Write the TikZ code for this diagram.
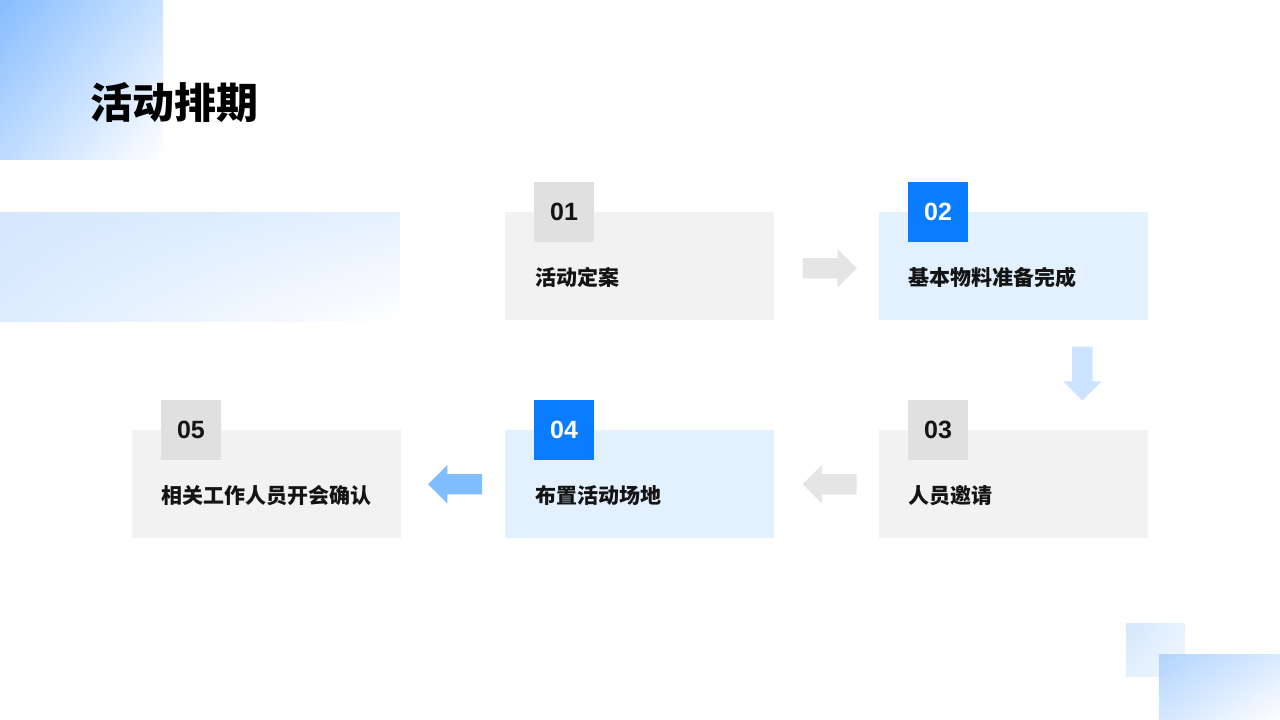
\documentclass[tikz,border=0pt]{standalone}
\usepackage{fontspec}
\setmainfont{Liberation Sans}
\newfontfamily\cjk{Noto Sans CJK SC}
\usepackage{xcolor}
\usepackage{tikz}
\usetikzlibrary{shapes.arrows, shadings, positioning, calc}
\definecolor{PlanBlue}{RGB}{10, 124, 255}
\definecolor{PlanPale}{RGB}{227, 240, 254}
\definecolor{PlanGray}{RGB}{242, 242, 242}
\definecolor{PlanTagGray}{RGB}{224, 224, 224}
\definecolor{PlanArrowGray}{RGB}{229, 229, 229}
\definecolor{PlanArrowBlue}{RGB}{128, 189, 255}
\definecolor{PlanArrowPale}{RGB}{204, 228, 255}
\definecolor{PlanDeco}{RGB}{134, 189, 255}
\definecolor{PlanDecoSoft}{RGB}{212, 231, 253}
\definecolor{PlanText}{RGB}{20, 20, 20}

\tikzset{
  card/.style={fill=PlanGray, minimum width=269pt, minimum height=108pt, inner sep=0pt, anchor=north west},
  cardhi/.style={card, fill=PlanPale},
  tag/.style={fill=PlanTagGray, minimum size=60pt, inner sep=0pt, text=PlanText,
              font=\fontsize{25}{28}\selectfont\bfseries},
  taghi/.style={tag, fill=PlanBlue, text=white},
  cardtext/.style={anchor=west, inner sep=0pt, text=PlanText, font=\cjk\fontsize{21}{24}\selectfont\bfseries},
  flowarrow/.style={single arrow, single arrow head extend=9pt, minimum height=54pt,
                    inner sep=10pt, draw=none}
}

\begin{document}
\begin{tikzpicture}[x=1pt, y=-1pt]
  \useasboundingbox (0,0) rectangle (1280,720);
  \fill[white] (0,0) rectangle (1280,720);

  % decoration
  \shade[upper left=PlanDeco, upper right=PlanDeco!45, lower left=PlanDeco!55, lower right=white]
    (0,0) rectangle (163,159);
  \shade[upper left=PlanDecoSoft, upper right=PlanDecoSoft!60, lower left=PlanDecoSoft!80, lower right=white]
    (0,212) rectangle (400,321);
  \shade[upper left=PlanDecoSoft, upper right=PlanDecoSoft!55, lower left=PlanDecoSoft!65, lower right=PlanDecoSoft!30]
    (1126,623) rectangle (1185,676);
  \shade[opacity=0.9, upper left=PlanDeco!70, upper right=PlanDeco!35, lower left=PlanDeco!40, lower right=white]
    (1159,654) rectangle (1280,720);

  \node[anchor=west, inner sep=0pt, text=black, font=\cjk\fontsize{42}{48}\selectfont\bfseries] (title) at (90,103) {活动排期};

  % steps
  \node[card] (act1) at (505,212) {};
  \node[cardhi] (act2) at (879,212) {};
  \node[card] (act3) at (879,430) {};
  \node[cardhi] (act4) at (505,430) {};
  \node[card] (act5) at (132,430) {};

  \node[tag] (num1) at ($(act1.north west)+(59,0)$) {01};
  \node[taghi] (num2) at ($(act2.north west)+(59,0)$) {02};
  \node[tag] (num3) at ($(act3.north west)+(59,0)$) {03};
  \node[taghi] (num4) at ($(act4.north west)+(59,0)$) {04};
  \node[tag] (num5) at ($(act5.north west)+(59,0)$) {05};

  \node[cardtext] (txt1) at ($(act1.west)+(30,11)$) {活动定案};
  \node[cardtext] (txt2) at ($(act2.west)+(29,11)$) {基本物料准备完成};
  \node[cardtext] (txt3) at ($(act3.west)+(29,11)$) {人员邀请};
  \node[cardtext] (txt4) at ($(act4.west)+(30,11)$) {布置活动场地};
  \node[cardtext] (txt5) at ($(act5.west)+(29,11)$) {相关工作人员开会确认};

  % arrows
  \node[flowarrow, fill=PlanArrowGray] (go12) at ($(act1.east)!0.5!(act2.west)+(-2,2)$) {};
  \node[flowarrow, fill=PlanArrowPale, shape border rotate=270] (go23) at ($(act2.south east)+(-66,48)$) {};
  \node[flowarrow, fill=PlanArrowGray, shape border rotate=180] (go34) at ($(act4.east)!0.5!(act3.west)+(8,0)$) {};
  \node[flowarrow, fill=PlanArrowBlue, shape border rotate=180] (go45) at ($(act5.east)!0.5!(act4.west)+(7,0)$) {};
\end{tikzpicture}
\end{document}
